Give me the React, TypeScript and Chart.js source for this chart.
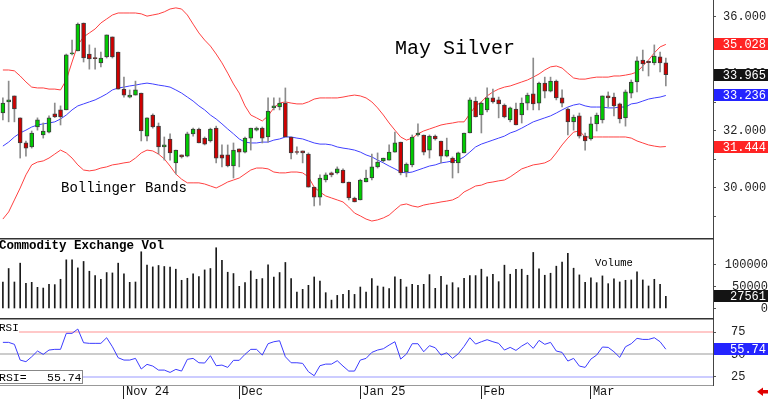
import React, { useEffect, useRef } from 'react';
import { Chart, registerables } from 'chart.js';

Chart.register(...registerables);

const FONT = '"Liberation Mono", "DejaVu Sans Mono", monospace';
const TITLE = 'May Silver';
const BAND_LABEL = 'Bollinger Bands';
const VOLUME_TITLE = 'Commodity Exchange Vol';
const VOLUME_LABEL = 'Volume';
const RSI_LABEL = 'RSI';

// trading days (categories), Oct 2024 .. Mar 2025
const TRADING_DAYS: Array<[string, number[]]> = [
  ['Oct', [3, 4, 7, 8, 9, 10, 11, 14, 15, 16, 17, 18, 21, 22, 23, 24, 25, 28, 29, 30, 31]],
  ['Nov', [1, 4, 5, 6, 7, 8, 11, 12, 13, 14, 15, 18, 19, 20, 21, 22, 25, 26, 27, 29]],
  ['Dec', [2, 3, 4, 5, 6, 9, 10, 11, 12, 13, 16, 17, 18, 19, 20, 23, 24, 26, 27, 30, 31]],
  ['Jan', [2, 3, 6, 7, 8, 9, 10, 13, 14, 15, 16, 17, 21, 22, 23, 24, 27, 28, 29, 30, 31]],
  ['Feb', [3, 4, 5, 6, 7, 10, 11, 12, 13, 14, 18, 19, 20, 21, 24, 25, 26, 27, 28]],
  ['Mar', [3, 4, 5, 6, 7, 10, 11, 12, 13, 14, 17, 18, 19, 20]],
];
const X_TICK_LABELS = ['Nov 24', 'Dec', 'Jan 25', 'Feb', 'Mar'];
const PRICE_TICKS = [29, 30, 31, 32, 33, 34, 35, 36];
const PRICE_LABELLED = [30, 32, 34, 36];
const VOLUME_TICKS = [0, 50000, 100000];
const RSI_TICKS = [25, 50, 75];
const RSI_LEVELS = [75, 50, 25];
const RSI_LEVEL_COLORS = ['#ffc8c8', '#cccccc', '#ccccff'];

const OPEN = [32.62,33.01,33.22,32.45,31.57,31.43,32.13,31.85,31.95,32.59,
  32.73,32.73,34.69,34.80,35.78,34.69,34.57,34.38,34.59,35.29,
  34.76,33.46,33.18,33.25,33.32,31.81,32.55,32.16,31.43,31.71,
  30.87,31.15,31.11,31.89,32.06,31.74,31.64,32.09,31.15,31.15,
  30.76,31.36,31.25,31.74,32.02,32.09,31.78,32.80,32.83,32.97,
  31.78,31.27,31.29,31.18,30.02,29.67,30.27,30.52,30.52,30.62,
  30.20,29.64,29.57,30.20,30.34,30.73,30.94,30.97,31.25,31.60,
  30.55,30.80,31.85,31.85,31.32,31.81,31.64,31.11,31.04,30.87,
  31.22,31.92,33.04,32.55,32.73,33.15,33.08,32.90,32.38,32.76,
  32.55,32.97,33.29,32.97,33.67,33.39,33.74,33.15,32.76,32.31,
  32.52,31.81,31.71,32.24,32.38,33.22,33.18,32.94,32.45,33.32,
  33.71,34.48,34.43,34.38,34.59,34.38];
const HIGH = [33.15,33.74,33.22,32.45,31.64,31.99,32.45,32.27,32.52,32.97,
  32.87,34.69,35.18,35.78,35.78,35.01,34.90,34.76,35.36,35.29,
  34.76,33.88,33.43,33.74,33.32,32.45,32.59,32.27,31.78,31.89,
  31.32,31.15,31.95,32.09,32.09,31.78,32.09,32.16,31.50,31.50,
  31.57,31.36,31.78,32.09,32.13,32.13,33.15,33.15,33.15,33.50,
  31.78,31.43,31.29,31.22,30.02,30.45,30.52,30.55,30.73,30.66,
  30.20,29.67,30.30,30.62,31.18,31.22,31.04,31.50,31.95,31.60,
  30.87,31.85,32.24,31.85,31.85,31.85,31.64,31.74,31.08,31.25,
  31.92,33.15,33.18,33.01,33.50,33.46,33.18,32.94,32.83,32.97,
  33.15,33.32,34.55,33.71,33.88,33.88,33.78,33.43,32.80,32.55,
  32.62,31.92,32.48,32.62,33.22,33.36,33.32,32.97,33.43,33.78,
  34.59,34.83,34.45,35.01,34.76,34.55];
const LOW = [32.38,32.31,32.31,31.04,31.11,31.39,32.02,31.74,31.92,32.46,
  32.20,32.73,34.66,34.80,34.41,34.16,34.16,34.24,34.55,34.55,
  33.46,33.18,33.15,33.25,31.64,31.64,32.09,31.18,30.97,30.97,
  30.48,31.04,31.08,31.81,31.57,31.50,31.60,30.87,30.73,30.73,
  30.34,30.73,31.22,31.32,31.99,31.57,31.60,32.73,32.73,31.78,
  31.01,31.18,30.87,30.02,29.36,29.39,30.20,30.38,30.48,30.17,
  29.57,29.50,29.57,30.20,30.27,30.69,30.90,30.97,31.25,30.45,
  30.38,30.73,31.81,31.15,31.04,31.67,30.87,31.08,30.34,30.52,
  31.22,31.92,32.48,31.92,32.66,32.97,32.45,32.45,32.31,32.20,
  32.27,32.73,32.73,32.73,33.15,33.36,33.08,32.83,31.85,32.02,
  31.74,31.32,31.67,31.99,32.27,32.83,32.52,32.27,32.16,33.15,
  33.36,34.10,33.92,34.31,34.06,33.57];
const CLOSE = [32.97,33.08,32.76,31.57,31.39,31.92,32.38,31.99,32.45,32.48,
  32.48,34.66,34.73,35.74,34.55,34.52,34.53,34.55,35.36,34.59,
  33.46,33.25,33.25,33.43,31.99,32.45,32.13,31.43,31.50,31.22,
  31.32,31.08,31.89,32.06,31.57,31.53,32.06,31.04,31.04,30.76,
  31.32,31.25,31.74,32.09,32.09,31.74,32.69,32.87,32.97,31.78,
  31.22,31.24,31.22,30.02,29.67,30.34,30.45,30.45,30.66,30.17,
  29.64,29.50,30.27,30.34,30.73,30.90,31.04,31.25,31.57,30.52,
  30.83,31.78,31.92,31.25,31.81,31.71,31.11,31.32,30.87,31.22,
  31.92,33.08,32.48,32.97,33.15,33.01,32.94,32.48,32.80,32.20,
  32.97,33.25,32.94,33.67,33.39,33.74,33.15,32.97,32.31,32.48,
  31.81,31.64,32.24,32.55,33.22,33.15,32.87,32.41,33.36,33.71,
  34.45,34.34,34.39,34.62,34.38,33.965];
const UPPER = [34.13,34.13,34.10,33.92,33.71,33.53,33.50,33.50,33.46,33.46,
  33.43,33.78,34.41,35.01,35.29,35.43,35.57,35.78,35.92,36.06,
  36.13,36.13,36.13,36.13,36.10,36.02,36.06,36.10,36.17,36.27,
  36.31,36.27,36.06,35.74,35.43,35.18,34.97,34.69,34.38,34.02,
  33.64,33.32,32.87,32.55,32.45,32.34,32.52,32.80,32.97,33.01,
  32.97,32.94,32.94,33.01,33.11,33.15,33.15,33.15,33.15,33.18,
  33.22,33.25,33.22,33.15,33.01,32.80,32.55,32.27,32.02,31.78,
  31.67,31.74,31.89,31.99,32.06,32.13,32.20,32.24,32.27,32.31,
  32.31,32.59,32.87,33.01,33.22,33.36,33.46,33.53,33.57,33.64,
  33.71,33.78,33.88,33.99,34.13,34.24,34.27,34.20,34.02,33.85,
  33.81,33.81,33.85,33.88,33.88,33.88,33.92,33.92,33.95,33.99,
  34.06,34.27,34.48,34.73,34.94,35.028];
const MIDDLE = [31.46,31.60,31.78,31.92,32.02,32.13,32.20,32.24,32.27,32.31,
  32.41,32.55,32.73,32.87,32.94,33.01,33.08,33.18,33.29,33.43,
  33.50,33.53,33.57,33.60,33.64,33.67,33.64,33.60,33.57,33.53,
  33.43,33.32,33.18,33.04,32.87,32.73,32.55,32.41,32.24,32.06,
  31.89,31.71,31.60,31.57,31.57,31.60,31.60,31.67,31.71,31.78,
  31.78,31.74,31.71,31.64,31.57,31.53,31.53,31.50,31.43,31.39,
  31.36,31.32,31.25,31.15,31.08,30.97,30.87,30.76,30.66,30.55,
  30.52,30.55,30.62,30.69,30.76,30.80,30.87,30.90,30.94,30.97,
  31.08,31.25,31.43,31.53,31.60,31.67,31.74,31.81,31.92,31.99,
  32.09,32.20,32.31,32.38,32.45,32.52,32.62,32.73,32.83,32.90,
  32.94,32.87,32.83,32.83,32.83,32.80,32.80,32.83,32.83,32.94,
  32.97,33.04,33.11,33.15,33.18,33.236];
const LOWER = [28.90,29.15,29.57,29.99,30.45,30.80,30.90,30.94,31.04,31.18,
  31.32,31.22,31.04,30.80,30.62,30.59,30.62,30.69,30.73,30.80,
  30.83,30.87,30.90,31.04,31.22,31.32,31.29,31.18,31.01,30.76,
  30.48,30.30,30.17,30.17,30.17,30.13,30.06,29.99,30.09,30.20,
  30.27,30.34,30.48,30.62,30.69,30.69,30.66,30.55,30.52,30.52,
  30.55,30.55,30.52,30.38,30.02,29.85,29.71,29.64,29.57,29.50,
  29.32,29.11,29.01,28.90,28.83,28.87,28.94,29.04,29.22,29.39,
  29.43,29.36,29.32,29.39,29.43,29.46,29.50,29.53,29.57,29.67,
  29.85,29.95,30.06,30.09,30.17,30.20,30.24,30.27,30.38,30.52,
  30.66,30.73,30.80,30.83,30.87,30.97,31.22,31.50,31.74,31.95,
  31.99,31.78,31.78,31.78,31.78,31.78,31.78,31.78,31.78,31.74,
  31.64,31.57,31.50,31.46,31.43,31.444];
const VOLUME = [60500,91300,60500,103500,57500,59800,48300,46700,55200,54500,
  66700,111100,111100,92700,107400,85100,75200,66700,82100,81200,
  103500,78900,59800,60500,129500,98900,95000,98200,95900,94300,
  89700,64400,69000,78900,72900,88100,91300,138700,109700,82800,
  79800,50600,59100,85800,66700,68300,99600,72000,82100,105100,
  68300,37500,43700,52900,72000,62800,36100,19100,29900,32200,
  41400,32200,49000,37500,68300,51300,49000,45200,72100,66700,
  49100,55200,52900,55200,77400,46000,73600,53700,59000,47500,
  69000,75100,75100,89700,72100,78200,61300,98900,78200,89700,
  89700,75900,128000,90500,75900,80500,96600,105800,125700,92000,
  76700,59800,69800,59000,74400,56700,67500,60600,64400,65200,
  83600,65200,51400,66700,55200,27561];
const RSI = [63.4,63.4,61.2,43.6,41.8,47.3,53.7,50.0,54.8,55.6,
  55.6,73.5,73.5,78.3,63.0,62.3,62.3,62.3,68.6,58.5,
  46.2,43.6,43.6,45.5,33.6,38.8,36.9,32.4,32.4,29.8,
  33.2,31.3,44.4,45.5,40.6,40.3,48.5,37.3,38.0,35.4,
  43.3,43.3,50.0,55.6,55.6,49.2,61.9,64.1,65.2,47.3,
  40.6,40.6,39.9,30.6,26.1,37.3,39.1,39.1,42.9,36.9,
  31.3,31.3,43.6,45.5,52.2,54.8,56.3,60.4,64.1,44.7,
  50.3,61.9,61.9,52.9,59.7,57.4,49.2,51.8,45.5,50.7,
  58.9,68.6,61.5,64.1,66.4,64.1,62.3,54.8,57.8,54.4,
  59.3,63.0,56.7,65.6,61.2,63.4,53.7,52.2,42.5,45.5,
  36.9,35.4,44.7,49.2,58.2,57.8,52.9,46.6,58.5,61.9,
  67.9,66.7,66.7,68.6,64.1,55.74];

// index of first trading day in each month after the first
const MONTH_START_INDEX = TRADING_DAYS.slice(1).map((_, k) =>
  TRADING_DAYS.slice(0, k + 1).reduce((s, [, d]) => s + d.length, 0));

const X_MIN = -0.5;
const X_MAX = 123.18;
const AXIS_W = 55;
const UP = '#00cc00';
const DOWN = '#d00000';

const lastOf = (a: number[]) => a[a.length - 1];
const pts = (a: number[]) => a.map((v, i) => ({ x: i, y: v }));

function valueBox(ctx: CanvasRenderingContext2D, py: number, label: string, bg: string) {
  const h = 12;
  const top = Math.round(py - h / 2);
  ctx.fillStyle = bg;
  ctx.fillRect(714, top, 54, h);
  ctx.fillStyle = '#ffffff';
  ctx.font = `12px ${FONT}`;
  ctx.textAlign = 'right';
  ctx.textBaseline = 'middle';
  ctx.fillText(label, 766, top + h / 2 + 0.5);
}

function xScale(display: boolean): any {
  return {
    type: 'linear', min: X_MIN, max: X_MAX, offset: false, display,
    position: 'bottom',
    afterBuildTicks: (s: any) => { s.ticks = MONTH_START_INDEX.map((v) => ({ value: v })); },
    afterFit: (s: any) => { s.height = display ? 14 : 0; s.paddingLeft = 0; s.paddingRight = 0; },
    grid: { drawOnChartArea: false, drawTicks: true, tickLength: 14, color: '#222', offset: false },
    border: { display: true, color: '#999', width: 1 },
    ticks: {
      autoSkip: false, maxRotation: 0, minRotation: 0, align: 'start', padding: -14.7, labelOffset: 2,
      color: '#111', font: { family: FONT, size: 12 },
      callback: (_v: any, i: number) => X_TICK_LABELS[i] ?? '',
    },
  };
}

function yScale(min: number, max: number, tickValues: number[], ticks: any): any {
  return {
    type: 'linear', position: 'right', beginAtZero: false, min, max,
    afterBuildTicks: (s: any) => { s.ticks = tickValues.map((v) => ({ value: v })); },
    afterFit: (s: any) => { s.width = AXIS_W; s.paddingTop = 0; s.paddingBottom = 0; },
    grid: { drawOnChartArea: false, drawTicks: true, tickLength: 3, color: '#555' },
    border: { display: true, color: '#444', width: 1 },
    ticks: {
      autoSkip: false, color: '#222',
      font: { family: FONT, size: 12 },
      ...ticks,
    },
  };
}

function baseOptions(scales: any): any {
  return {
    responsive: false,
    animation: false,
    devicePixelRatio: 1,
    events: [],
    layout: { padding: 0, autoPadding: false },
    plugins: { legend: { display: false }, tooltip: { enabled: false } },
    scales,
  };
}

const lineDs = (a: number[], color: string, order: number) => ({
  type: 'line', data: pts(a), borderColor: color, borderWidth: 1, pointRadius: 0, tension: 0, order,
});

const pricePlugin = {
  id: 'priceDecor',
  afterDraw(chart: any) {
    const { ctx } = chart;
    const y = chart.scales.y;
    ctx.save();
    ctx.fillStyle = '#000';
    ctx.textAlign = 'left';
    ctx.textBaseline = 'alphabetic';
    ctx.font = `20px ${FONT}`;
    ctx.fillText(TITLE, 395, 54);
    ctx.font = `14px ${FONT}`;
    ctx.fillText(BAND_LABEL, 61, 191.5);
    valueBox(ctx, y.getPixelForValue(lastOf(UPPER)), lastOf(UPPER).toFixed(3), '#ff2424');
    valueBox(ctx, y.getPixelForValue(lastOf(CLOSE)), lastOf(CLOSE).toFixed(3), '#141414');
    valueBox(ctx, y.getPixelForValue(lastOf(MIDDLE)), lastOf(MIDDLE).toFixed(3), '#2424ff');
    valueBox(ctx, y.getPixelForValue(lastOf(LOWER)), lastOf(LOWER).toFixed(3), '#ff2424');
    ctx.restore();
  },
};

const volumePlugin = {
  id: 'volDecor',
  afterDraw(chart: any) {
    const { ctx, chartArea } = chart;
    const y = chart.scales.y;
    ctx.save();
    ctx.fillStyle = '#333';
    ctx.fillRect(0, 0, chartArea.right + 1, 1.5);
    ctx.fillStyle = '#000';
    ctx.textAlign = 'left';
    ctx.textBaseline = 'alphabetic';
    ctx.font = `bold 12.5px ${FONT}`;
    ctx.fillText(VOLUME_TITLE, -1, 11.3);
    ctx.font = `10.5px ${FONT}`;
    ctx.fillText(VOLUME_LABEL, 595, 27.7);
    valueBox(ctx, y.getPixelForValue(lastOf(VOLUME)), String(lastOf(VOLUME)), '#141414');
    ctx.restore();
  },
};

const rsiPlugin = {
  id: 'rsiDecor',
  beforeDatasetsDraw(chart: any) {
    const { ctx, chartArea } = chart;
    const y = chart.scales.y;
    ctx.save();
    RSI_LEVELS.forEach((lv, k) => {
      const py = Math.round(y.getPixelForValue(lv));
      ctx.fillStyle = RSI_LEVEL_COLORS[k];
      ctx.fillRect(0, py - 1, chartArea.right, 2);
    });
    ctx.restore();
  },
  afterDraw(chart: any) {
    const { ctx, chartArea } = chart;
    const y = chart.scales.y;
    ctx.save();
    ctx.fillStyle = '#333';
    ctx.fillRect(0, 0, chartArea.right + 1, 1.5);
    // RSI title
    ctx.fillStyle = '#fff';
    ctx.fillRect(0, 2, 19, 13);
    ctx.fillStyle = '#000';
    ctx.textAlign = 'left';
    ctx.textBaseline = 'alphabetic';
    ctx.font = `11px ${FONT}`;
    ctx.fillText(RSI_LABEL, -1, 13);
    // RSI= box
    ctx.fillStyle = '#fff';
    ctx.fillRect(0, 52, 83, 13);
    ctx.strokeStyle = '#888';
    ctx.lineWidth = 1;
    ctx.strokeRect(-0.5, 52.5, 83, 13);
    ctx.fillStyle = '#000';
    ctx.font = `11.5px ${FONT}`;
    ctx.fillText(`${RSI_LABEL}=`, -1, 63.3);
    ctx.textAlign = 'right';
    ctx.fillText(lastOf(RSI).toFixed(2), 81.5, 63.3);
    valueBox(ctx, y.getPixelForValue(lastOf(RSI)), lastOf(RSI).toFixed(2), '#2424ff');
    // red arrow
    ctx.fillStyle = '#e00000';
    ctx.fillRect(762, 72, 6, 3.5);
    ctx.beginPath();
    ctx.moveTo(757, 73.75);
    ctx.lineTo(763, 69.5);
    ctx.lineTo(763, 78);
    ctx.closePath();
    ctx.fill();
    ctx.restore();
  },
};

export default function App() {
  const priceRef = useRef<HTMLCanvasElement>(null);
  const volRef = useRef<HTMLCanvasElement>(null);
  const rsiRef = useRef<HTMLCanvasElement>(null);

  useEffect(() => {
    document.body.style.margin = '0';
    document.body.style.background = '#fff';

    const price = new Chart(priceRef.current as HTMLCanvasElement, {
      type: 'bar',
      data: {
        datasets: [
          lineDs(UPPER, '#ff4040', 3),
          lineDs(MIDDLE, '#4040ff', 3),
          lineDs(LOWER, '#ff4040', 3),
          {
            type: 'bar', data: LOW.map((l, i) => ({ x: i, y: [l, HIGH[i]] })),
            backgroundColor: '#8c8c8c', borderWidth: 0, barThickness: 1, grouped: false, order: 2,
          },
          {
            type: 'bar', data: OPEN.map((o, i) => ({ x: i, y: [o, CLOSE[i]] })),
            backgroundColor: OPEN.map((o, i) => (CLOSE[i] >= o ? UP : DOWN)),
            borderColor: '#3c3c3c', borderWidth: 1, borderSkipped: false,
            barThickness: 4, grouped: false, order: 1,
          },
        ] as any,
      },
      options: baseOptions({
        x: xScale(false),
        y: yScale(28.235, 36.586, PRICE_TICKS, {
          padding: 7, crossAlign: 'near',
          callback: (v: number) => (PRICE_LABELLED.includes(v) ? Number(v).toFixed(3) : ''),
        }),
      }),
      plugins: [pricePlugin],
    } as any);

    const vol = new Chart(volRef.current as HTMLCanvasElement, {
      type: 'bar',
      data: {
        datasets: [
          { type: 'bar', data: pts(VOLUME), backgroundColor: '#1a1a1a', borderWidth: 0, barThickness: 1, grouped: false },
        ] as any,
      },
      options: baseOptions({
        x: xScale(false),
        y: yScale(-21690, 160960, VOLUME_TICKS, {
          padding: 7, crossAlign: 'far', callback: (v: number) => String(v),
        }),
      }),
      plugins: [volumePlugin],
    } as any);

    const rsi = new Chart(rsiRef.current as HTMLCanvasElement, {
      type: 'line',
      data: {
        datasets: [
          { type: 'line', data: pts(RSI), borderColor: '#3c3cff', borderWidth: 1, pointRadius: 0, tension: 0 },
        ] as any,
      },
      options: baseOptions({
        x: xScale(true),
        y: yScale(15.72, 90.66, RSI_TICKS, {
          padding: 15, crossAlign: 'near', callback: (v: number) => String(v),
        }),
      }),
      plugins: [rsiPlugin],
    } as any);

    return () => { price.destroy(); vol.destroy(); rsi.destroy(); };
  }, []);

  const abs = (top: number, h: number): React.CSSProperties => ({ position: 'absolute', left: 0, top, width: 768, height: h });

  return (
    <div style={{ position: 'relative', width: 768, height: 399, background: '#fff', overflow: 'hidden' }}>
      <style>{'body{margin:0;background:#fff}'}</style>
      <div style={abs(0, 238)}><canvas ref={priceRef} width={768} height={238} style={{ display: 'block' }} /></div>
      <div style={abs(238, 80)}><canvas ref={volRef} width={768} height={80} style={{ display: 'block' }} /></div>
      <div style={abs(318, 81)}><canvas ref={rsiRef} width={768} height={81} style={{ display: 'block' }} /></div>
    </div>
  );
}
